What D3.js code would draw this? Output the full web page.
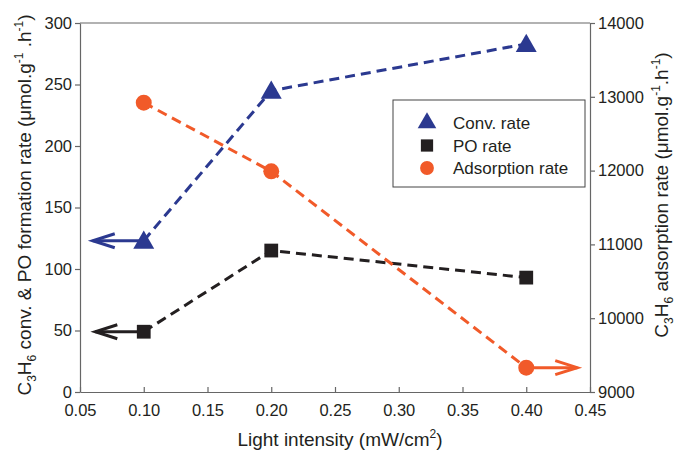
<!DOCTYPE html>
<html>
<head>
<meta charset="utf-8">
<script src="https://cdn.jsdelivr.net/npm/d3@7"></script>
<style>
  body { margin: 0; background: #fff; }
  svg text { font-family: "Liberation Sans", Arial, sans-serif; fill: #231f20; }
</style>
</head>
<body>
<svg id="chart" width="675" height="452"></svg>
<script>
// data
const intensity = [0.10, 0.20, 0.40];
const convRate = [123, 245, 283];
const poRate = [49, 115, 93];
const adsorptionRate = [12920, 11990, 9330];
const xTicks = [0.05, 0.10, 0.15, 0.20, 0.25, 0.30, 0.35, 0.40, 0.45];
const leftTicks = [0, 50, 100, 150, 200, 250, 300];
const rightTicks = [9000, 10000, 11000, 12000, 13000, 14000];

const blue = "#2b3990";
const black = "#231f20";
const orange = "#f15a29";
const axisColor = "#666";

const margin = { top: 23, right: 85, bottom: 60, left: 80 };
const width = 675 - margin.left - margin.right;
const height = 452 - margin.top - margin.bottom;

const svg = d3.select("#chart");
const g = svg.append("g").attr("transform", `translate(${margin.left},${margin.top})`);

const x = d3.scaleLinear().domain([0.05, 0.45]).range([0, width]);
const yL = d3.scaleLinear().domain([0, 300]).range([height, 0]);
const yR = d3.scaleLinear().domain([9000, 14000]).range([height, 0]);

// top frame line
g.append("line").attr("x1", 0).attr("x2", width).attr("y1", 0).attr("y2", 0)
  .attr("stroke", axisColor).attr("stroke-width", 1.2);

// axes
const xAxis = g.append("g").attr("transform", `translate(0,${height})`)
  .call(d3.axisBottom(x).tickValues(xTicks).tickFormat(d3.format(".2f")).tickSizeInner(-5).tickSizeOuter(0).tickPadding(12));
const leftAxis = g.append("g")
  .call(d3.axisLeft(yL).tickValues(leftTicks).tickSizeInner(5).tickSizeOuter(0).tickPadding(3));
const rightAxis = g.append("g").attr("transform", `translate(${width},0)`)
  .call(d3.axisRight(yR).tickValues(rightTicks).tickFormat(d3.format("d")).tickSizeInner(5).tickSizeOuter(0).tickPadding(3));

[xAxis, leftAxis, rightAxis].forEach(a => {
  a.selectAll("path, line").attr("stroke", axisColor).attr("stroke-width", 1.2);
  a.selectAll("text").style("font-size", "16.5px").attr("fill", black);
});

// axis titles
svg.append("text")
  .attr("x", margin.left + width / 2 + 5).attr("y", 446)
  .attr("text-anchor", "middle").style("font-size", "19px")
  .html('Light intensity (mW/cm<tspan dy="-8" font-size="12px">2</tspan><tspan dy="8">)</tspan>');

svg.append("text")
  .attr("transform", `translate(31,205) rotate(-90)`)
  .attr("text-anchor", "middle").style("font-size", "19px")
  .html('C<tspan dy="5" font-size="12px">3</tspan><tspan dy="-5">H</tspan><tspan dy="5" font-size="12px">6</tspan><tspan dy="-5"> conv. &amp; PO formation rate (μmol.g</tspan><tspan dy="-8" font-size="12px">-1</tspan><tspan dy="8"> .h</tspan><tspan dy="-8" font-size="12px">-1</tspan><tspan dy="8">)</tspan>');

svg.append("text")
  .attr("transform", `translate(668,195) rotate(-90)`)
  .attr("text-anchor", "middle").style("font-size", "19px")
  .html('C<tspan dy="5" font-size="12px">3</tspan><tspan dy="-5">H</tspan><tspan dy="5" font-size="12px">6</tspan><tspan dy="-5"> adsorption rate (μmol.g</tspan><tspan dy="-8" font-size="12px">-1</tspan><tspan dy="8">.h</tspan><tspan dy="-8" font-size="12px">-1</tspan><tspan dy="8">)</tspan>');

// series
const series = [
  { values: convRate, y: yL, color: blue, shape: d3.symbolTriangle, size: 190, arrowTo: 0.06, dir: -1 },
  { values: poRate, y: yL, color: black, shape: d3.symbolSquare, size: 190, arrowTo: 0.062, dir: -1 },
  { values: adsorptionRate, y: yR, color: orange, shape: d3.symbolCircle, size: 200, arrowTo: 0.44, dir: 1 }
];

series.forEach(s => {
  const pts = intensity.map((v, i) => [x(v), s.y(s.values[i])]);
  g.append("path")
    .attr("d", d3.line()(pts))
    .attr("fill", "none").attr("stroke", s.color)
    .attr("stroke-width", 3).attr("stroke-dasharray", "10,6");

  // arrow pointing to the axis used
  const anchor = s.dir < 0 ? pts[0] : pts[pts.length - 1];
  const tipX = x(s.arrowTo);
  g.append("line")
    .attr("x1", anchor[0]).attr("y1", anchor[1]).attr("x2", tipX).attr("y2", anchor[1])
    .attr("stroke", s.color).attr("stroke-width", 3);
  g.append("path")
    .attr("d", `M${tipX - s.dir * 22},${anchor[1] - 7}L${tipX},${anchor[1]}L${tipX - s.dir * 22},${anchor[1] + 7}`)
    .attr("fill", "none").attr("stroke", s.color).attr("stroke-width", 3);

  g.selectAll(null).data(pts).enter().append("path")
    .attr("transform", d => `translate(${d[0]},${d[1] + (s.shape === d3.symbolTriangle ? 2 : 0)})`)
    .attr("d", d3.symbol(s.shape, s.size))
    .attr("fill", s.color);
});

// legend
const legendData = [
  { label: "Conv. rate", color: blue, shape: d3.symbolTriangle },
  { label: "PO rate", color: black, shape: d3.symbolSquare },
  { label: "Adsorption rate", color: orange, shape: d3.symbolCircle }
];
const legend = svg.append("g").attr("transform", "translate(393,100)");
legend.append("rect").attr("width", 192).attr("height", 87)
  .attr("fill", "#fff").attr("stroke", "#444").attr("stroke-width", 1);
const items = legend.selectAll(".item").data(legendData).enter().append("g")
  .attr("transform", (d, i) => `translate(0,${23 + i * 22.5})`);
items.append("path")
  .attr("transform", "translate(34,0)")
  .attr("d", d => d3.symbol(d.shape, 150)())
  .attr("fill", d => d.color);
items.append("text").attr("x", 60).attr("y", 6)
  .style("font-size", "17px").text(d => d.label);
</script>
</body>
</html>
